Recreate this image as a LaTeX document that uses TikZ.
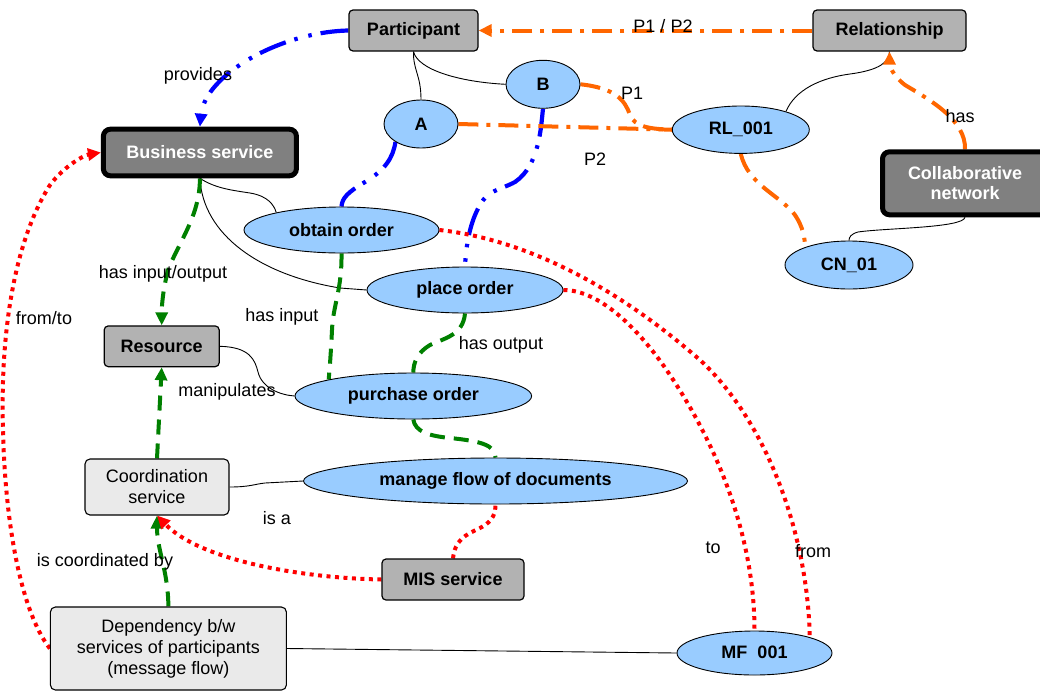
\documentclass[tikz,border=0pt]{standalone}
\usepackage{fontspec}
\setmainfont{Liberation Sans}
\usetikzlibrary{arrows.meta,shapes.geometric}
\definecolor{ellblue}{HTML}{99CCFF}
\definecolor{boxgray}{HTML}{B2B2B2}
\definecolor{darkbox}{HTML}{808080}
\definecolor{lightbox}{HTML}{EAEAEA}
\definecolor{orng}{HTML}{FF6600}
\definecolor{grn}{HTML}{008000}
\definecolor{blu}{HTML}{0000FF}
\definecolor{rd}{HTML}{FF0000}
\pgfdeclarelayer{bg}
\pgfsetlayers{bg,main}
\begin{document}
\begin{tikzpicture}[x=1pt,y=-1pt,
  every node/.style={font=\fontsize{18}{21}\selectfont},
  ell/.style={ellipse, draw=black, line width=0.9pt, fill=ellblue, inner sep=0pt,
    font=\fontsize{18}{21}\selectfont\bfseries},
  gbox/.style={rectangle, rounded corners=4pt, draw=black, line width=1.2pt, fill=boxgray,
    inner sep=0pt, font=\fontsize{18}{21}\selectfont\bfseries},
  dbox/.style={rectangle, rounded corners=7pt, draw=black, line width=5pt, fill=darkbox,
    text=white, inner sep=0pt, align=center, font=\fontsize{18}{20}\selectfont\bfseries},
  lbox/.style={rectangle, rounded corners=5pt, draw=black, line width=1.1pt, fill=lightbox,
    inner sep=0pt, align=center, font=\fontsize{18}{21}\selectfont},
  lbl/.style={inner sep=0pt},
  tip/.style={-{Triangle[length=13pt,width=12pt]}},
  bluel/.style={draw=blu, line width=4.2pt, dash pattern=on 28pt off 9pt on 3.5pt off 11pt on 3.5pt off 9pt},
  orl/.style={draw=orng, line width=4pt, dash pattern=on 20pt off 8pt on 4pt off 8pt},
  redl/.style={draw=rd, line width=4pt, dash pattern=on 4pt off 4.5pt},
  grnl/.style={draw=grn, line width=4pt, dash pattern=on 15pt off 9pt},
  thinl/.style={draw=black, line width=0.9pt}
]
\useasboundingbox (0,0) rectangle (1040,691);

% boxes
\node[gbox, minimum width=129pt, minimum height=41pt] (part) at (413.5,30.5) {Participant};
\node[gbox, minimum width=153pt, minimum height=41pt] (rel) at (889.5,30.5) {Relationship};
\node[dbox, minimum width=193pt, minimum height=46.6pt] (bs) at (199.9,152.5) {Business service};
\node[dbox, minimum width=165pt, minimum height=63pt] (cn) at (965,183.3) {Collaborative\\network};
\node[gbox, minimum width=115pt, minimum height=40.7pt] (res) at (161.7,346.3) {Resource};
\node[lbox, minimum width=144pt, minimum height=56pt] (coord) at (157,487) {Coordination\\service};
\node[gbox, minimum width=142pt, minimum height=41pt] (mis) at (453,579.5) {MIS service};
\node[lbox, minimum width=236pt, minimum height=83pt] (dep) at (168.4,648.5) {Dependency b/w\\services of participants\\(message flow)};

% ellipses
\node[ell, minimum width=74pt, minimum height=48pt] (A) at (421,124) {A};
\node[ell, minimum width=74pt, minimum height=48pt] (B) at (543,84.3) {B};
\node[ell, minimum width=137pt, minimum height=47.4pt] (RL) at (740.8,129.7) {RL\_001};
\node[ell, minimum width=128pt, minimum height=48pt] (CN) at (849,265) {CN\_01};
\node[ell, minimum width=195pt, minimum height=46pt] (obtain) at (341.5,230) {obtain order};
\node[ell, minimum width=196pt, minimum height=46pt] (place) at (465,290) {place order};
\node[ell, minimum width=236.6pt, minimum height=46pt] (purchase) at (413.3,396) {purchase order};
\node[ell, minimum width=384pt, minimum height=46pt] (manage) at (495.5,481) {manage flow of documents};
\node[ell, minimum width=155pt, minimum height=44pt] (MF) at (754.5,653) {MF\phantom{\_}001};

\begin{pgfonlayer}{bg}
% thin black connectors
\draw[thinl] (part.south) .. controls (413,70) and (421,75) .. (A.north);
\draw[thinl] (part.south) .. controls (418,70) and (460,82) .. (B.west);
\draw[thinl] (RL.22) .. controls (795,90) and (820,78) .. (850,74) .. controls (880,70) and (889,62) .. (rel.south);
\draw[thinl] (cn.south) .. controls (963,228) and (885,228) .. (858,232) .. controls (851,234) and (849,237) .. (CN.north);
\draw[thinl] (bs.south) .. controls (215,188) and (230,190) .. (250,193) .. controls (268,196) and (274,205) .. (obtain.165);
\draw[thinl] (bs.south) .. controls (203,235) and (260,275) .. (340,288) -- (place.west);
\draw[thinl] (res.east) .. controls (250,347) and (255,360) .. (258,372) .. controls (262,388) and (280,395) .. (purchase.west);
\draw[thinl] (coord.east) .. controls (250,487) and (255,484) .. (265,483) -- (manage.west);
\draw[thinl] (dep.east) -- (MF.west);

% blue
\draw[bluel, tip] (part.west) .. controls (280,32) and (205,75) .. (bs.north);
\draw[bluel] (A.215) .. controls (393,158) and (385,170) .. (365,182) .. controls (348,192) and (342,198) .. (obtain.north);
\draw[bluel] (B.south) .. controls (541,125) and (540,165) .. (515,182) .. controls (500,190) and (488,190) .. (480,205) .. controls (470,222) and (466,245) .. (place.north);

% orange
\draw[orl, tip] (rel.west) -- (part.east);
\draw[orl] (A.east) -- (RL.west);
\draw[orl] (B.east) .. controls (615,88) and (625,100) .. (630,115) .. controls (635,127) and (650,129) .. (RL.west);
\draw[orl] (RL.south) .. controls (748,185) and (780,195) .. (795,215) .. controls (803,227) and (805,238) .. (CN.158);
\draw[orl, tip] (cn.north) .. controls (966,120) and (930,100) .. (905,85) .. controls (892,75) and (889.5,65) .. (rel.south);

% green
\draw[grnl, tip] (bs.south) .. controls (200,215) and (180,240) .. (168,270) .. controls (163,290) and (161.7,305) .. (res.north);
\draw[grnl, tip] (coord.north) -- (res.south);
\draw[grnl, tip] (dep.north) .. controls (168,570) and (157,550) .. (coord.south);
\draw[grnl] (obtain.south) .. controls (342,290) and (333,305) .. (332,330) .. controls (331,350) and (330,365) .. (purchase.169);
\draw[grnl] (place.south) .. controls (463,335) and (445,338) .. (430,345) .. controls (418,352) and (413.3,362) .. (purchase.north);
\draw[grnl] (purchase.south) .. controls (415,432) and (430,436) .. (450,438) .. controls (480,441) and (495.5,445) .. (manage.north);

% red
\draw[redl, tip] (dep.west) .. controls (20,610) and (5,520) .. (3,430) .. controls (0,330) and (15,240) .. (50,185) .. controls (65,165) and (85,155) .. (bs.west);
\draw[redl, tip] (mis.west) .. controls (300,578) and (200,560) .. (coord.south);
\draw[redl] (mis.north) .. controls (455,540) and (465,535) .. (480,528) .. controls (494,521) and (495.5,512) .. (manage.south);
\draw[redl] (place.east) .. controls (600,290) and (640,330) .. (670,375) .. controls (720,450) and (754.5,540) .. (MF.north);
\draw[redl] (obtain.east) .. controls (530,240) and (620,290) .. (700,360) .. controls (770,425) and (808,540) .. (MF.16);
\end{pgfonlayer}

% labels
\node[lbl] (lprov) at (198,76) {provides};
\node[lbl] (lp12) at (663,26) {P1 / P2};
\node[lbl] (lp1) at (632,93) {P1};
\node[lbl] (lp2) at (595,159) {P2};
\node[lbl] (lhas) at (960,116) {has};
\node[lbl] (lhio) at (163,274) {has input/output};
\node[lbl] (lft) at (44,318) {from/to};
\node[lbl] (lhi) at (282,317) {has input};
\node[lbl] (lho) at (501,345) {has output};
\node[lbl] (lman) at (227,392) {manipulates};
\node[lbl] (lisa) at (277,518) {is a};
\node[lbl] (licb) at (105,562) {is coordinated by};
\node[lbl] (lto) at (713,548) {to};
\node[lbl] (lfrom) at (813,551) {from};
\end{tikzpicture}
\end{document}
